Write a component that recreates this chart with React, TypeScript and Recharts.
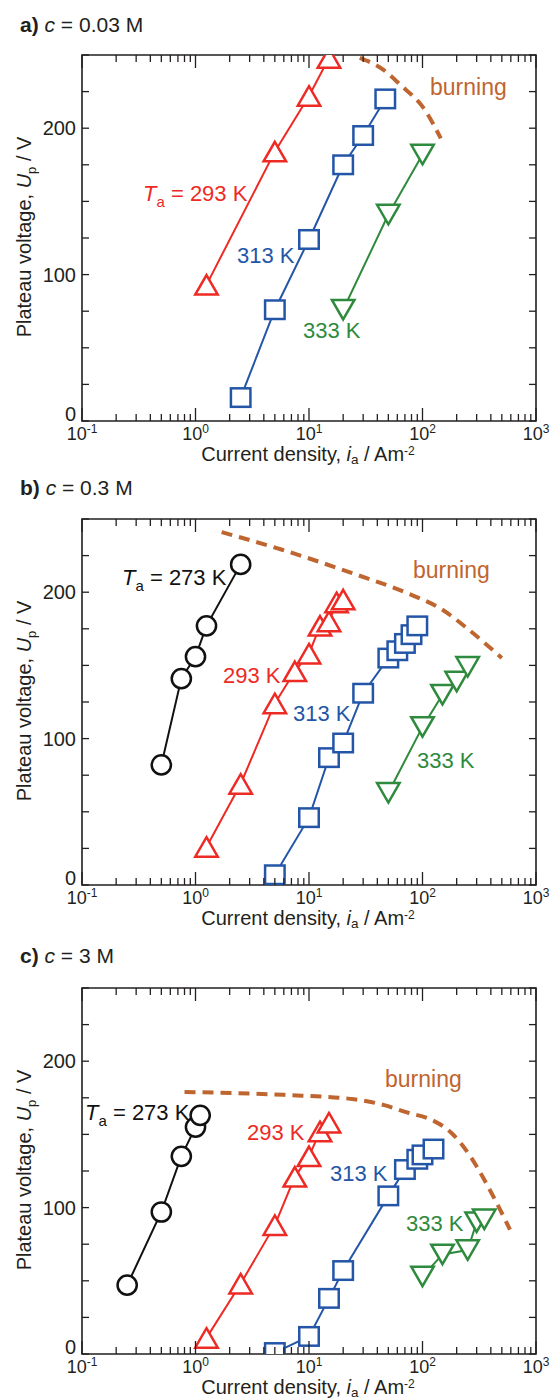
import { ScatterChart, Scatter, XAxis, YAxis, ReferenceArea } from "recharts"

type Pt = [number, number]
type Marker = "circle" | "square" | "up" | "down"

const FONT = '"Liberation Sans", Arial, Helvetica, sans-serif'
const INK = "#231f20"
const BLACK = "#111111"
const RED = "#ee2a24"
const BLUE = "#2456a8"
const GREEN = "#2e8a3c"
const BROWN = "#bf6530"

// axis ticks
const decades = [0.1, 1, 10, 100, 1000]
const decadeExps = ["-1", "0", "1", "2", "3"]
const minorSteps = [2, 3, 4, 5, 6, 7, 8, 9]
const xTicks = decades.flatMap((d, i) =>
  i < decades.length - 1 ? [d, ...minorSteps.map((m) => +(d * m).toPrecision(3))] : [d]
)
const yTicks = [0, 25, 50, 75, 100, 125, 150, 175, 200, 225, 250]
const yLabelled = [0, 100, 200]

// a) c = 0.03 M  -- [current density A/m2, plateau voltage V]
const a293: Pt[] = [[1.25, 93], [5, 184], [10, 222], [15, 248]]
const a313: Pt[] = [[2.5, 16], [5, 76], [10, 124], [20, 175], [30, 195], [47, 220]]
const a333: Pt[] = [[20, 76], [50, 141], [100, 182]]
const aBurning: Pt[] = [[28, 248], [45, 240], [63, 230], [106, 212], [145, 193]]

// b) c = 0.3 M
const b273: Pt[] = [[0.5, 82], [0.75, 141], [1, 156], [1.25, 177], [2.5, 219]]
const b293: Pt[] = [[1.25, 26], [2.5, 69], [5, 124], [7.5, 146], [10, 158], [12.5, 177], [15, 180], [17.5, 193], [20, 195]]
const b313: Pt[] = [[5, 7], [10, 46], [15, 87], [20, 97], [30, 131], [50, 155], [60, 160], [70, 165], [80, 171], [90, 177]]
const b333: Pt[] = [[50, 63], [100, 108], [150, 130], [200, 139], [250, 149]]
const bBurning: Pt[] = [[1.7, 241], [5.8, 229], [24, 213], [70, 200], [150, 188], [250, 175], [500, 155]]

// c) c = 3 M
const c273: Pt[] = [[0.25, 47], [0.5, 97], [0.75, 135], [1, 155], [1.1, 163]]
const c293: Pt[] = [[1.25, 11], [2.5, 48], [5, 88], [7.5, 121], [10, 135], [12.5, 152], [15, 158]]
const c313: Pt[] = [[5, 1], [10, 12], [15, 38], [20, 57], [50, 108], [70, 126], [90, 133], [100, 136], [125, 140]]
const c333: Pt[] = [[100, 53], [150, 68], [250, 71], [300, 90], [350, 92]]
const cBurning: Pt[] = [[0.8, 179], [6, 177], [25, 174], [46, 170], [73, 165], [120, 160], [180, 151], [264, 135], [405, 110], [590, 85]]

const PANEL_H = 465
const PLOT_W = 454
const PLOT_H = 366

const toPoints = (pts: Pt[]) => pts.map(([x, y]) => ({ x, y }))

const XTick = (props: any) => {
  const { x, y, payload } = props
  const idx = decades.indexOf(payload.value)
  const len = idx >= 0 ? 13 : 7
  return (
    <g stroke={INK} strokeWidth={1.3}>
      <line x1={x} x2={x} y1={y} y2={y - len} />
      <line x1={x} x2={x} y1={y - PLOT_H} y2={y - PLOT_H + len} />
      {idx >= 0 && (
        <text x={x} y={y + 19} textAnchor="middle" fontSize={18} fill={INK} stroke="none" fontFamily={FONT}>
          10<tspan dy={-7} fontSize={12}>{decadeExps[idx]}</tspan>
        </text>
      )}
    </g>
  )
}

const YTick = (props: any) => {
  const { x, y, payload } = props
  // the zero label sits on the corner, clear of the x labels
  const dy = payload.value === 0 ? 0 : 7
  return (
    <g stroke={INK} strokeWidth={1.3}>
      <line x1={x} x2={x + 7} y1={y} y2={y} />
      <line x1={x + PLOT_W - 7} x2={x + PLOT_W} y1={y} y2={y} />
      {yLabelled.includes(payload.value) && (
        <text x={x - 6} y={y + dy} textAnchor="end" fontSize={20} fill={INK} stroke="none" fontFamily={FONT}>
          {payload.value}
        </text>
      )}
    </g>
  )
}

const markerShape = (marker: Marker, color: string) => (props: any) => {
  const { cx, cy } = props
  const common = { fill: "#fff", stroke: color, strokeWidth: 2.5 }
  if (marker === "circle") return <circle cx={cx} cy={cy} r={9.6} {...common} />
  if (marker === "square") return <rect x={cx - 9.75} y={cy - 9.25} width={19.5} height={18.5} {...common} />
  const hw = 11.25
  const hh = 9.75
  const pts =
    marker === "up"
      ? `${cx},${cy - hh} ${cx + hw},${cy + hh} ${cx - hw},${cy + hh}`
      : `${cx},${cy + hh} ${cx + hw},${cy - hh} ${cx - hw},${cy - hh}`
  return <polygon points={pts} strokeLinejoin="miter" {...common} />
}

const noMarker = () => <g />

type SeriesDef = { pts: Pt[]; color: string; marker: Marker }

const Panel = ({ top, series, burning, children }: { top: number; series: SeriesDef[]; burning: Pt[]; children: any }) => (
  <div style={{ position: "absolute", left: 0, top, width: 555, height: PANEL_H }}>
    <ScatterChart width={555} height={PANEL_H} margin={{ top: 55, right: 19, bottom: 14, left: 42 }}>
      <XAxis
        type="number"
        dataKey="x"
        scale="log"
        domain={[0.1, 1000]}
        allowDataOverflow
        ticks={xTicks}
        interval={0}
        height={30}
        tickSize={0}
        tickMargin={0}
        tickLine={false}
        axisLine={false}
        tick={(p: any) => <XTick {...p} />}
      />
      <YAxis
        type="number"
        dataKey="y"
        domain={[0, 250]}
        allowDataOverflow
        ticks={yTicks}
        interval={0}
        width={40}
        tickSize={0}
        tickMargin={0}
        tickLine={false}
        axisLine={false}
        tick={(p: any) => <YTick {...p} />}
      />
      <ReferenceArea x1={0.1} x2={1000} y1={0} y2={250} fill="none" stroke={INK} strokeWidth={1.6} ifOverflow="visible" />
      <Scatter
        data={toPoints(burning)}
        shape={noMarker}
        line={{ stroke: BROWN, strokeWidth: 4, strokeDasharray: "11 7", fill: "none" }}
        lineJointType="monotoneX"
        isAnimationActive={false}
      />
      {series.map((s, i) => (
        <Scatter
          key={i}
          data={toPoints(s.pts)}
          shape={markerShape(s.marker, s.color)}
          line={{ stroke: s.color, strokeWidth: 2, fill: "none" }}
          isAnimationActive={false}
        />
      ))}
    </ScatterChart>
    <svg
      width={555}
      height={PANEL_H}
      style={{ position: "absolute", left: 0, top: 0, pointerEvents: "none", overflow: "visible" }}
      fontFamily={FONT}
    >
      <text x={31} y={237} transform="rotate(-90 31 237)" textAnchor="middle" fontSize={20} fill={INK}>
        Plateau voltage, <tspan fontStyle="italic">U</tspan>
        <tspan dy={5} fontSize={13}>p</tspan>
        <tspan dy={-5}> / V</tspan>
      </text>
      <text x={308} y={461} textAnchor="middle" fontSize={20} fill={INK}>
        Current density, <tspan fontStyle="italic">i</tspan>
        <tspan dy={3} fontSize={13.5}>a</tspan>
        <tspan dy={-3}> / Am</tspan>
        <tspan dy={-6} fontSize={12}>-2</tspan>
      </text>
      {children}
    </svg>
  </div>
)

const Title = ({ y, letter, conc }: { y: number; letter: string; conc: string }) => (
  <text x={20} y={y} fontSize={21} fill={INK}>
    <tspan fontWeight="bold">{letter})</tspan> <tspan fontStyle="italic">c</tspan> = {conc} M
  </text>
)

const TempLabel = ({ x, y, color, t, withSymbol }: { x: number; y: number; color: string; t: string; withSymbol?: boolean }) => (
  <text x={x} y={y} fontSize={22} fill={color}>
    {withSymbol && (
      <>
        <tspan fontStyle="italic">T</tspan>
        <tspan dy={6} fontSize={15}>a</tspan>
        <tspan dy={-6}> = </tspan>
      </>
    )}
    {t} K
  </text>
)

const Burning = ({ x, y }: { x: number; y: number }) => (
  <text x={x} y={y} fontSize={23} fill={BROWN}>
    burning
  </text>
)

export default function App() {
  return (
    <div style={{ position: "absolute", left: 0, top: 0, width: 555, height: 1400, background: "#fff", fontFamily: FONT }}>
      <Panel
        top={0}
        burning={aBurning}
        series={[
          { pts: a293, color: RED, marker: "up" },
          { pts: a313, color: BLUE, marker: "square" },
          { pts: a333, color: GREEN, marker: "down" },
        ]}
      >
        <Title y={32} letter="a" conc="0.03" />
        <TempLabel x={143} y={201} color={RED} t="293" withSymbol />
        <TempLabel x={237} y={263} color={BLUE} t="313" />
        <TempLabel x={303} y={338} color={GREEN} t="333" />
        <Burning x={430} y={95} />
      </Panel>
      <Panel
        top={464}
        burning={bBurning}
        series={[
          { pts: b273, color: BLACK, marker: "circle" },
          { pts: b293, color: RED, marker: "up" },
          { pts: b313, color: BLUE, marker: "square" },
          { pts: b333, color: GREEN, marker: "down" },
        ]}
      >
        <Title y={31} letter="b" conc="0.3" />
        <TempLabel x={122} y={121} color={BLACK} t="273" withSymbol />
        <TempLabel x={223} y={219} color={RED} t="293" />
        <TempLabel x={293} y={257} color={BLUE} t="313" />
        <TempLabel x={417} y={304} color={GREEN} t="333" />
        <Burning x={413} y={114} />
      </Panel>
      <Panel
        top={933}
        burning={cBurning}
        series={[
          { pts: c273, color: BLACK, marker: "circle" },
          { pts: c293, color: RED, marker: "up" },
          { pts: c313, color: BLUE, marker: "square" },
          { pts: c333, color: GREEN, marker: "down" },
        ]}
      >
        <Title y={30} letter="c" conc="3" />
        <TempLabel x={85} y={187} color={BLACK} t="273" withSymbol />
        <TempLabel x={247} y={207} color={RED} t="293" />
        <TempLabel x={330} y={248} color={BLUE} t="313" />
        <TempLabel x={406} y={298} color={GREEN} t="333" />
        <Burning x={385} y={154} />
      </Panel>
    </div>
  )
}
